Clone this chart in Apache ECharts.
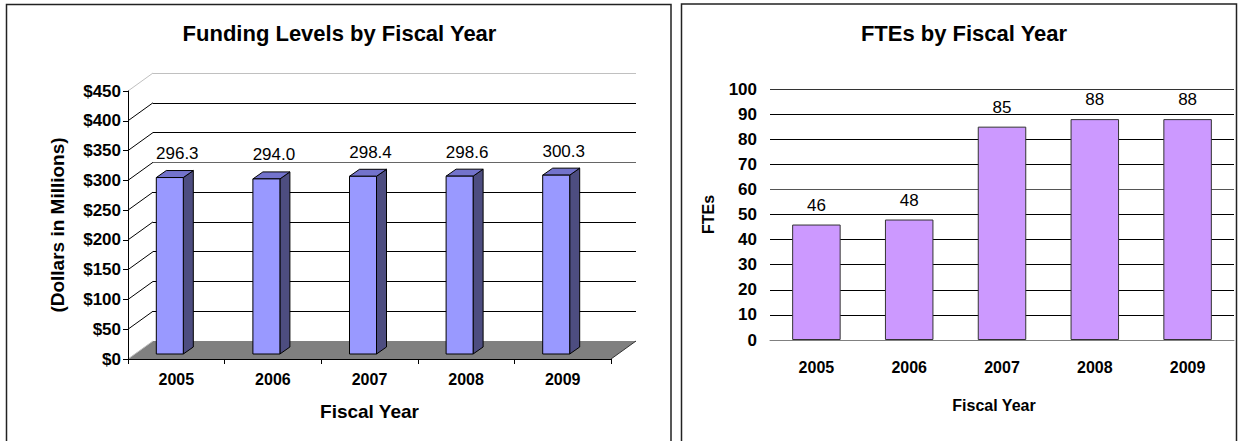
<!DOCTYPE html>
<html><head><meta charset="utf-8">
<script src="https://cdn.jsdelivr.net/npm/echarts@6/dist/echarts.min.js"></script>
<style>html,body{margin:0;padding:0;background:#fff;}#c{width:1239px;height:441px;}</style>
</head><body><div id="c"></div>
<script>
const years = ['2005', '2006', '2007', '2008', '2009'];
const funding = [296.3, 294.0, 298.4, 298.6, 300.3];
const ftes = [46, 48, 85, 88, 88];
const fundTicks = [0, 50, 100, 150, 200, 250, 300, 350, 400, 450];

const FONT = "'Liberation Sans', Arial, sans-serif";
const chart = echarts.init(document.getElementById('c'), null, {renderer: 'svg'});

const DX = 25, DY = -18;       // depth of the 3D box
const BDX = 10, BDY = -7;      // depth of each bar

const option = {
  animation: false,
  backgroundColor: '#fff',
  graphic: [
    {type: 'rect', shape: {x: 6.5, y: 4.5, width: 664.5, height: 500}, style: {fill: 'none', stroke: '#222', lineWidth: 1.5}, z: 100},
    {type: 'rect', shape: {x: 681.5, y: 4, width: 555, height: 500}, style: {fill: 'none', stroke: '#222', lineWidth: 1.5}, z: 100},
    {type: 'text', x: 339.5, y: 33, style: {text: 'Funding Levels by Fiscal Year', font: 'bold 22px ' + FONT, fill: '#000', align: 'center', verticalAlign: 'middle'}},
    {type: 'text', x: 964, y: 33, style: {text: 'FTEs by Fiscal Year', font: 'bold 22px ' + FONT, fill: '#000', align: 'center', verticalAlign: 'middle'}}
  ],
  grid: [
    {left: 128, top: 91, width: 483, height: 268},   // front plane of 3D chart
    {left: 153, top: 73, width: 483, height: 268},   // back wall
    {left: 770, top: 89, width: 464, height: 251}    // FTE chart
  ],
  xAxis: [
    {gridIndex: 0, type: 'category', data: years, z: 5,
     axisLine: {lineStyle: {color: '#000', width: 1}},
     axisTick: {show: true, length: 5, lineStyle: {color: '#000'}},
     axisLabel: {margin: 12, color: '#000', fontWeight: 'bold', fontSize: 16, fontFamily: FONT},
     name: 'Fiscal Year', nameLocation: 'middle', nameGap: 43,
     nameTextStyle: {color: '#000', fontWeight: 'bold', fontSize: 19, fontFamily: FONT}},
    {gridIndex: 1, type: 'category', data: years, axisLine: {show: false}, axisTick: {show: false}, axisLabel: {show: false}, splitLine: {show: false}},
    {gridIndex: 2, type: 'category', data: years,
     axisLine: {lineStyle: {color: '#808080', width: 1}},
     axisTick: {show: false},
     axisLabel: {margin: 19, color: '#000', fontWeight: 'bold', fontSize: 16, fontFamily: FONT},
     name: 'Fiscal Year', nameLocation: 'middle', nameGap: 57,
     nameTextStyle: {color: '#000', fontWeight: 'bold', fontSize: 16, fontFamily: FONT, padding: [0, 16, 0, 0]}}
  ],
  yAxis: [
    {gridIndex: 0, type: 'value', min: 0, max: 450, interval: 50, z: 5,
     axisLine: {show: true, lineStyle: {color: '#000', width: 1}},
     axisTick: {show: true, length: 5, lineStyle: {color: '#000'}},
     splitLine: {show: false},
     axisLabel: {margin: 7, color: '#000', fontWeight: 'bold', fontSize: 17, fontFamily: FONT, formatter: v => '$' + v},
     name: '(Dollars in Millions)', nameLocation: 'middle', nameGap: 61, nameRotate: 90,
     nameTextStyle: {color: '#000', fontWeight: 'bold', fontSize: 19, fontFamily: FONT}},
    {gridIndex: 1, type: 'value', min: 0, max: 450, interval: 50,
     axisLine: {show: false}, axisTick: {show: false}, axisLabel: {show: false},
     splitLine: {show: true, lineStyle: {width: 1, color: ['#808080', '#000', '#000', '#000', '#000', '#000', '#666', '#000', '#000', '#c0c0c0']}}},
    {gridIndex: 2, type: 'value', min: 0, max: 100, interval: 10,
     axisLine: {show: false}, axisTick: {show: false},
     axisLabel: {margin: 13, color: '#000', fontWeight: 'bold', fontSize: 17, fontFamily: FONT},
     splitLine: {show: true, lineStyle: {width: 1, color: ['#808080', '#000', '#000', '#000', '#000', '#000', '#555', '#000', '#000', '#000', '#333']}},
     name: 'FTEs', nameLocation: 'middle', nameGap: 54, nameRotate: 90,
     nameTextStyle: {color: '#000', fontWeight: 'bold', fontSize: 16, fontFamily: FONT}}
  ],
  series: [
    {
      type: 'custom', xAxisIndex: 0, yAxisIndex: 0, z: 2,
      data: fundTicks.map(v => [0, v]),
      encode: {x: 0, y: 1},
      silent: true,
      renderItem: function (params, api) {
        const cs = params.coordSys;
        const v = api.value(1);
        const y = api.coord([0, v])[1];
        const children = [];
        if (v === 0) {
          children.push({type: 'polygon', shape: {points: [[cs.x, y], [cs.x + cs.width, y], [cs.x + cs.width + DX, y + DY], [cs.x + DX, y + DY]]},
            style: {fill: '#808080', stroke: 'none'}});
          children.push({type: 'line', shape: {x1: cs.x + cs.width, y1: y, x2: cs.x + cs.width + DX, y2: y + DY}, style: {stroke: '#333', lineWidth: 1}});
          children.push({type: 'line', shape: {x1: cs.x, y1: y, x2: cs.x + DX, y2: y + DY}, style: {stroke: '#c0c0c0', lineWidth: 1}});
        } else {
          children.push({type: 'line', shape: {x1: cs.x, y1: y, x2: cs.x + DX, y2: y + DY},
            style: {stroke: v === 450 ? '#c0c0c0' : '#000', lineWidth: 1}});
        }
        return {type: 'group', children: children};
      }
    },
    {
      type: 'custom', xAxisIndex: 0, yAxisIndex: 0, z: 3,
      data: funding.map((v, i) => [i, v]),
      encode: {x: 0, y: 1},
      renderItem: function (params, api) {
        const i = api.value(0), v = api.value(1);
        const top = api.coord([i, v]), base = api.coord([i, 0]);
        const cx = top[0];
        const ty = top[1] - 5, by = base[1] - 5;
        const l = cx - 20, r = cx + 7;
        return {type: 'group', children: [
          {type: 'polygon', shape: {points: [[r, ty], [r + BDX, ty + BDY], [r + BDX, by + BDY], [r, by]]}, style: {fill: '#4D4D80', stroke: '#000', lineWidth: 1}},
          {type: 'polygon', shape: {points: [[l, ty], [l + BDX, ty + BDY], [r + BDX, ty + BDY], [r, ty]]}, style: {fill: '#7373CC', stroke: '#000', lineWidth: 1}},
          {type: 'rect', shape: {x: l, y: ty, width: r - l, height: by - ty}, style: {fill: '#9999FF', stroke: '#000', lineWidth: 1}},
          {type: 'text', style: {text: v.toFixed(1), x: cx + 1, y: ty - 24, align: 'center', verticalAlign: 'middle', font: '17px ' + FONT, fill: '#000'}}
        ]};
      }
    },
    {
      type: 'bar', xAxisIndex: 2, yAxisIndex: 2,
      data: ftes, barWidth: 48.5,
      itemStyle: {color: '#CC99FF', borderColor: '#333', borderWidth: 1},
      label: {show: true, position: 'top', distance: 11, color: '#000', fontSize: 17, fontFamily: FONT}
    }
  ]
};
chart.setOption(option);
</script>
</body></html>
